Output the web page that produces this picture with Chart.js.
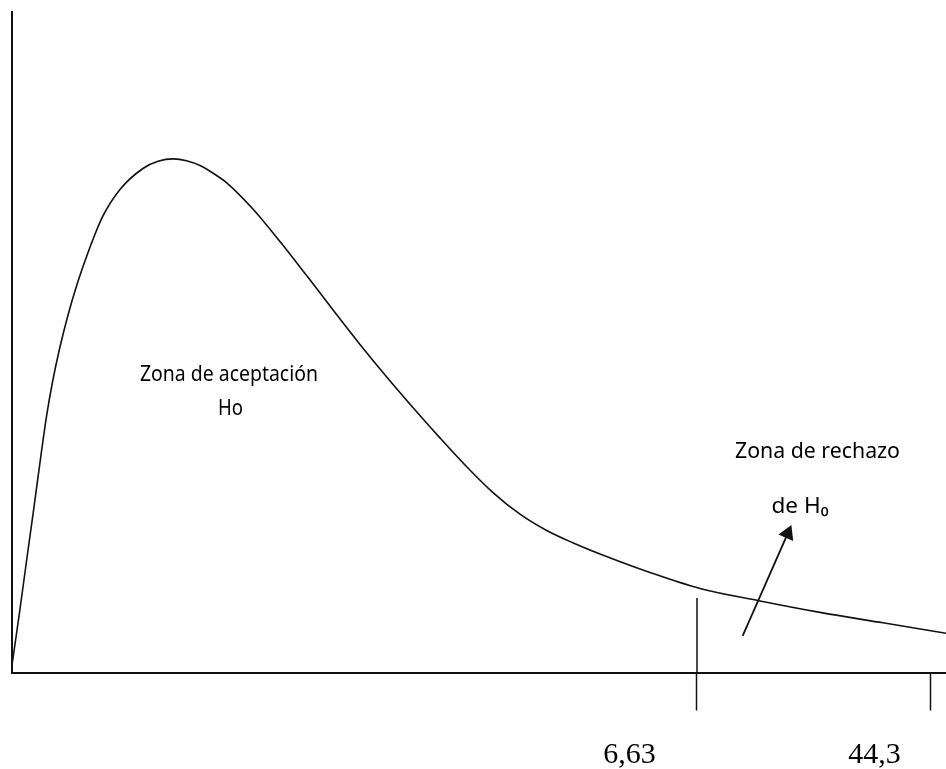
<!DOCTYPE html>
<html>
<head>
<meta charset="utf-8">
<script src="https://cdn.jsdelivr.net/npm/chart.js@4"></script>
<style>
  html, body { margin: 0; padding: 0; background: #fff; }
  #wrap { width: 946px; height: 769px; }
</style>
</head>
<body>
<div id="wrap"><canvas id="chiChart"></canvas></div>
<script>
// curva de densidad (unidades arbitrarias 0-100)
const curveX = [0.05, 0.84, 1.57, 2.31, 3.18, 3.69, 4.31, 5.06, 5.95, 7.00, 8.24, 9.70, 11.56, 14.06,
                15.63, 17.27, 18.69, 20.13, 21.55, 22.99, 25.84, 28.69, 31.55, 34.40, 37.26, 40.12,
                42.97, 45.82, 48.68, 51.53, 54.39, 57.25, 60.10, 62.96, 68.31, 73.66, 80.09, 86.51,
                93.25, 100];
const curveY = [1.59, 9.46, 17.03, 24.60, 33.69, 38.73, 43.79, 48.83, 53.87, 58.93, 63.97, 69.01, 73.13, 76.34,
                77.40, 77.77, 77.49, 76.76, 75.58, 74.14, 70.10, 65.25, 60.09, 54.85, 49.67, 44.74,
                40.05, 35.52, 31.16, 27.21, 23.97, 21.50, 19.61, 17.94, 15.14, 12.72, 10.83, 9.10,
                7.52, 5.95];

// valores críticos sobre el eje x
const criticalPos = [73.34, 98.39];
const criticalLabels = ['6,63', '44,3'];
const criticalLineTop = 11.28;

// flecha hacia la zona de rechazo
const arrowX = [78.23, 83.05];
const arrowY = [5.53, 21.03];

// textos
const zoneTexts = ['Zona de aceptación', 'Ho', 'Zona de rechazo', 'de H\u2080'];
const zoneTextX = [23.23, 23.39, 86.24, 84.37];
const zoneTextY = [44.13, 38.99, 32.48, 24.15];

const labelOffsets = [-67.5, -56.5];
const textWidths = [178, 25, 165, 57];

const textPlugin = {
    id: 'textPlugin',
    afterDraw(chart) {
        const ctx = chart.ctx;
        const xs = chart.scales.x;
        const ys = chart.scales.y;
        ctx.save();
        ctx.fillStyle = '#000';
        ctx.textAlign = 'center';
        ctx.textBaseline = 'alphabetic';

        // etiquetas de los valores críticos
        ctx.font = '30px "Liberation Serif", "Times New Roman", serif';
        criticalLabels.forEach((lbl, i) => {
            ctx.fillText(lbl, xs.getPixelForValue(criticalPos[i]) + labelOffsets[i], 763);
        });

        // textos de las zonas
        ctx.font = '22px "Noto Sans", sans-serif';
        zoneTexts.forEach((t, i) => {
            const w = ctx.measureText(t).width;
            const sx = textWidths[i] / w;
            ctx.save();
            ctx.translate(xs.getPixelForValue(zoneTextX[i]), ys.getPixelForValue(zoneTextY[i]));
            ctx.scale(sx, 1);
            ctx.fillText(t, 0, 0);
            ctx.restore();
        });
        ctx.restore();
    }
};

const ctx = document.getElementById('chiChart').getContext('2d');
new Chart(ctx, {
    type: 'line',
    data: {
        datasets: [{
            data: curveX.map((x, i) => ({ x: x, y: curveY[i] })),
            borderColor: '#111',
            borderWidth: 1.6,
            pointRadius: 0,
            cubicInterpolationMode: 'monotone'
        }, {
            data: [{ x: criticalPos[0], y: 0 }, { x: criticalPos[0], y: criticalLineTop }],
            borderColor: '#111',
            borderWidth: 1.5,
            pointRadius: 0
        }, {
            data: arrowX.map((x, i) => ({ x: x, y: arrowY[i] })),
            borderColor: '#111',
            backgroundColor: '#111',
            borderWidth: 1.8,
            pointRadius: [0, 7.5],
            pointHoverRadius: [0, 7.5],
            pointStyle: 'triangle',
            pointRotation: 23.7
        }]
    },
    options: {
        responsive: true,
        maintainAspectRatio: false,
        animation: false,
        events: [],
        layout: { autoPadding: false, padding: { left: 12, top: 12, right: 0, bottom: 58.5 } },
        plugins: {
            legend: { display: false },
            tooltip: { enabled: false }
        },
        scales: {
            x: {
                type: 'linear',
                min: 0,
                max: 100,
                afterBuildTicks: (axis) => {
                    axis.ticks = criticalPos.map(v => ({ value: v }));
                },
                ticks: { display: false },
                grid: {
                    drawOnChartArea: false,
                    drawTicks: true,
                    tickLength: 38,
                    tickColor: '#111',
                    tickWidth: 1.5
                },
                border: { color: '#111', width: 2 }
            },
            y: {
                min: 0,
                max: 100,
                ticks: { display: false },
                grid: { display: false, drawTicks: false },
                border: { color: '#111', width: 2 }
            }
        }
    },
    plugins: [textPlugin]
});
</script>
</body>
</html>
